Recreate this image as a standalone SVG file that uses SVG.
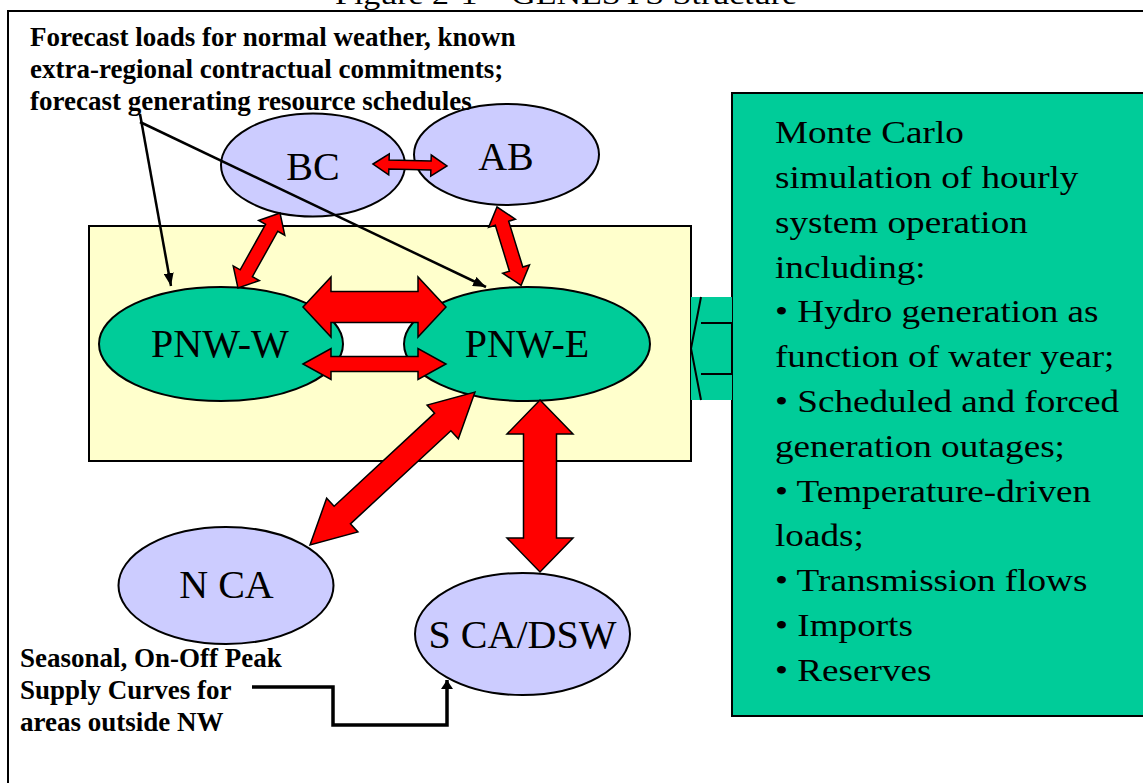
<svg xmlns="http://www.w3.org/2000/svg" width="1143" height="783" viewBox="0 0 1143 783">
<style>
.serif{font-family:"Liberation Serif","Times New Roman",serif;fill:#000}
.bold{font-weight:bold;font-size:27px}
.lbl{font-size:40px;text-anchor:middle}
.box{font-size:31.5px}
.ell{fill:#CCCCFF;stroke:#000;stroke-width:2}
.pnw{fill:#00CC99;stroke:#000;stroke-width:2}
.red{fill:#FF0000;stroke:#000;stroke-width:1.5;stroke-linejoin:miter}
.thin{fill:none;stroke:#000;stroke-width:2.5}
.thick{fill:none;stroke:#000;stroke-width:3.5}
</style>
<defs>
<marker id="ah" markerUnits="userSpaceOnUse" markerWidth="14" markerHeight="10" refX="13" refY="5" orient="auto">
<path d="M0,0 L13,5 L0,10 z" fill="#000"/>
</marker>
<marker id="ah2" markerUnits="userSpaceOnUse" markerWidth="10" markerHeight="12" refX="9" refY="6" orient="auto">
<path d="M0,0 L9,6 L0,12 z" fill="#000"/>
</marker>
</defs>
<rect x="0" y="0" width="1143" height="783" fill="#fff"/>
<rect id="frame" x="8" y="11" width="1160" height="800" fill="none" stroke="#000" stroke-width="2"/>
<text id="title" class="serif" x="335" y="4" font-size="27" textLength="462" lengthAdjust="spacingAndGlyphs">Figure 2-1 – GENESYS Structure</text>

<g id="node-region">
<rect x="89" y="226" width="602" height="235" fill="#FFFFCC" stroke="#000" stroke-width="2"/>
<rect x="333" y="318" width="80" height="42" fill="#fff"/>
</g>
<g id="node-bc"><ellipse class="ell" cx="313" cy="165" rx="92" ry="51.5"/><text class="serif lbl" x="313" y="180">BC</text></g>
<g id="node-ab"><ellipse class="ell" cx="506.5" cy="154.5" rx="92.5" ry="50.5"/><text class="serif lbl" x="506" y="170">AB</text></g>
<g id="node-pnww"><ellipse class="pnw" cx="221" cy="344" rx="122" ry="57"/><text class="serif lbl" x="220" y="357">PNW-W</text></g>
<g id="node-pnwe"><ellipse class="pnw" cx="527" cy="344" rx="123" ry="57"/><text class="serif lbl" x="527" y="357">PNW-E</text></g>
<g id="node-nca"><ellipse class="ell" cx="226" cy="585.5" rx="107.5" ry="58.5"/><text class="serif lbl" x="226.5" y="598">N CA</text></g>
<g id="node-sca"><ellipse class="ell" cx="522.5" cy="634" rx="107.5" ry="61"/><text class="serif lbl" x="522.5" y="648">S CA/DSW</text></g>

<g id="node-sim">
<rect x="732" y="93" width="430" height="623" fill="#00CC99" stroke="#000" stroke-width="2"/>
<g class="serif box" transform="translate(775 0) scale(1.18 1)">
<text x="0" y="143.3">Monte Carlo</text>
<text x="0" y="188.1">simulation of hourly</text>
<text x="0" y="232.9">system operation</text>
<text x="0" y="277.7">including:</text>
<text x="0" y="322.5">• Hydro generation as</text>
<text x="0" y="367.3">function of water year;</text>
<text x="0" y="412.1">• Scheduled and forced</text>
<text x="0" y="456.9">generation outages;</text>
<text x="0" y="501.7">• Temperature-driven</text>
<text x="0" y="546.5">loads;</text>
<text x="0" y="591.3">• Transmission flows</text>
<text x="0" y="636.1">• Imports</text>
<text x="0" y="680.9">• Reserves</text>
</g>
</g>

<g id="label-forecast" class="serif bold">
<text x="30" y="46">Forecast loads for normal weather, known</text>
<text x="30" y="78">extra-regional contractual commitments;</text>
<text x="30" y="110">forecast generating resource schedules</text>
</g>
<g id="label-supply" class="serif bold">
<text x="20" y="667">Seasonal, On-Off Peak</text>
<text x="20" y="699">Supply Curves for</text>
<text x="20" y="731">areas outside NW</text>
</g>

<g id="connectors">
<rect x="691" y="297" width="41" height="103" fill="#00CC99"/>
<polyline points="701,297 691,348.5 701,400" fill="none" stroke="#000" stroke-width="2"/>
<polyline points="701,323 732,323 732,374 701,374" fill="none" stroke="#000" stroke-width="2"/>

<polygon class="red" transform="translate(373 164) rotate(1.5)" points="0,0 16,-10.5 16,-4.5 58,-4.5 58,-10.5 74,0 58,10.5 58,4.5 16,4.5 16,10.5"/>
<polygon class="red" transform="translate(280 213) rotate(119.25)" points="0,0 17,-15 17,-7 69,-7 69,-15 86,0 69,15 69,7 17,7 17,15"/>
<polygon class="red" transform="translate(497 207) rotate(72.9)" points="0,0 17,-14 17,-7 65,-7 65,-14 82,0 65,14 65,7 17,7 17,14"/>
<polygon class="red" points="303,307 331,277 331,291.5 418,291.5 418,277 446,307 418,337 418,322.5 331,322.5 331,337"/>
<polygon class="red" points="303,364 331,348.5 331,356.5 418,356.5 418,348.5 446,364 418,379.5 418,371.5 331,371.5 331,379.5"/>
<polygon class="red" transform="translate(475 392) rotate(137.16)" points="0,0 44,-23 44,-12 181,-12 181,-23 225,0 181,23 181,12 44,12 44,23"/>
<polygon class="red" points="540,400 573,434 556.5,434 556.5,538 573,538 540,572 507,538 523.5,538 523.5,434 507,434"/>

<line class="thin" x1="140" y1="114" x2="171" y2="286" marker-end="url(#ah)"/>
<line class="thin" x1="140" y1="122" x2="486" y2="287" marker-end="url(#ah)"/>
<polyline class="thick" points="252,687 333,687 333,725 447,725 447,680" marker-end="url(#ah2)"/>
</g>
</svg>
